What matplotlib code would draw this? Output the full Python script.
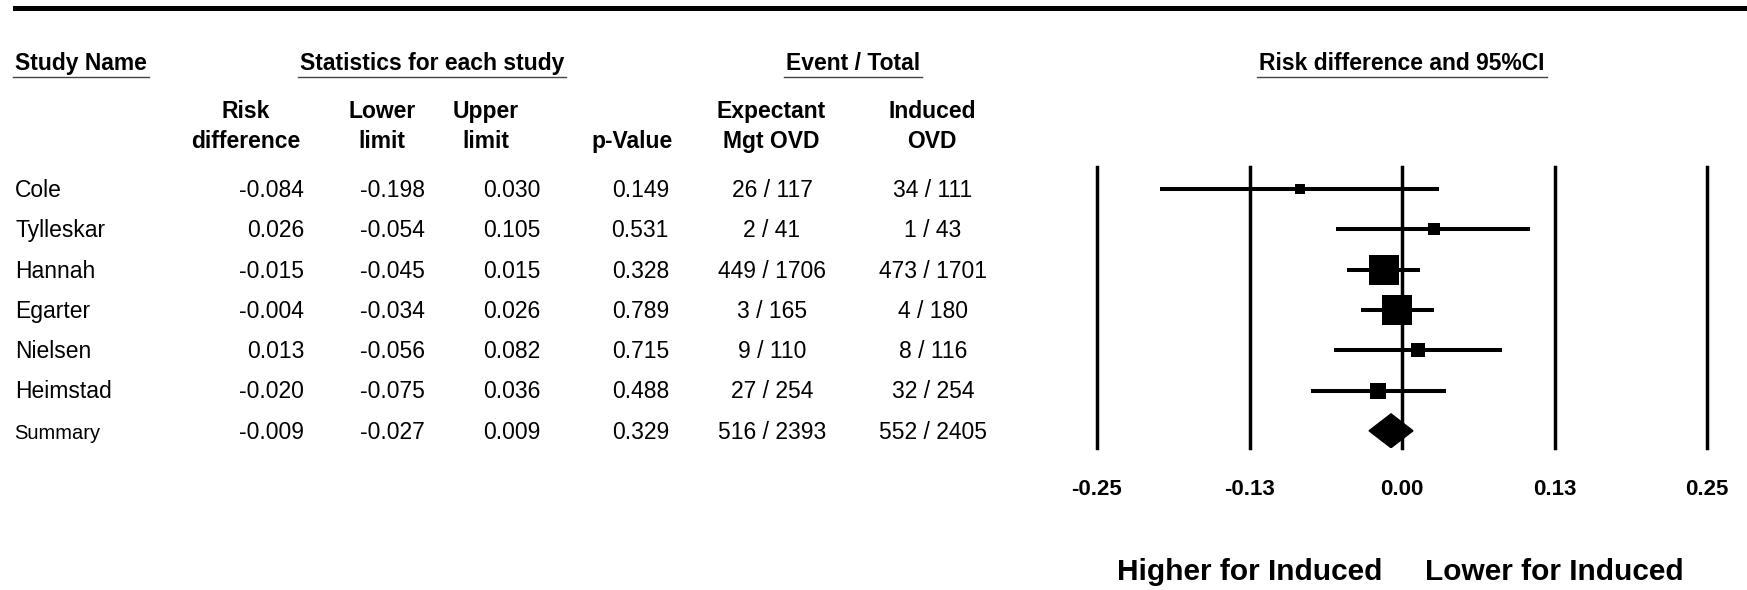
import numpy as np
import matplotlib
matplotlib.use("Agg")
import matplotlib.pyplot as plt
from matplotlib.lines import Line2D
from matplotlib.patches import Polygon

plt.rcParams.update({"font.family": ["Liberation Sans", "DejaVu Sans"], "font.size": 16.5})

# study-level data
studies = ["Cole", "Tylleskar", "Hannah", "Egarter", "Nielsen", "Heimstad"]
rd = [-0.084, 0.026, -0.015, -0.004, 0.013, -0.020]
lower = [-0.198, -0.054, -0.045, -0.034, -0.056, -0.075]
upper = [0.030, 0.105, 0.015, 0.026, 0.082, 0.036]
pval = [0.149, 0.531, 0.328, 0.789, 0.715, 0.488]
exp_ev = [26, 2, 449, 3, 9, 27]
exp_tot = [117, 41, 1706, 165, 110, 254]
ind_ev = [34, 1, 473, 4, 8, 32]
ind_tot = [111, 43, 1701, 180, 116, 254]

# pooled result
sum_rd, sum_lo, sum_hi, sum_p = -0.009, -0.027, 0.009, 0.329
sum_exp = (516, 2393)
sum_ind = (552, 2405)

ticks = [-0.25, -0.125, 0.0, 0.125, 0.25]
tick_labels = ["-0.25", "-0.13", "0.00", "0.13", "0.25"]

# box sizes (pt) as drawn in the original, roughly following study weight
box_pt = [7.9, 8.6, 22.3, 22.3, 9.4, 11.5]

W, H = 1747, 590
fig = plt.figure(figsize=(W / 100, H / 100), dpi=100)
def fx(x): return x / W
def fy(y): return 1 - y / H

row0, drow = 189, 40.3          # pixel centre of first row, row spacing
def base(i): return fy(row0 + drow * i + 8)

# forest panel
top, bot = 167, 448
ax = fig.add_axes([fx(1097), fy(bot), fx(1707) - fx(1097), (bot - top) / H])
ax.set_xlim(-0.25, 0.25)
ax.set_ylim((bot - row0) / drow, (top - row0) / drow)
for s in ax.spines.values():
    s.set_visible(False)
ax.set_yticks([])
ax.set_xticks(ticks)
ax.set_xticklabels(tick_labels, fontweight="bold", fontsize=16)
ax.tick_params(axis="x", length=0, pad=22)
for t in ticks:
    ax.axvline(t, color="black", lw=2.5, clip_on=False, zorder=1)
for i in range(len(studies)):
    ax.plot([lower[i], upper[i]], [i, i], color="black", lw=2.9, solid_capstyle="butt", zorder=2)
    ax.plot(rd[i], i, "s", ms=box_pt[i], color="black", mew=0, zorder=3)
k = len(studies)
h = 0.42
ax.add_patch(Polygon([(sum_lo, k), (sum_rd, k - h), (sum_hi, k), (sum_rd, k + h)],
                     closed=True, color="black", zorder=3))

# top rule
fig.add_artist(Line2D([fx(15), 1.0], [fy(7.5)] * 2, lw=3.6, color="black", transform=fig.transFigure))

# group headers, underlined
rend = fig.canvas.get_renderer()
heads = [("Study Name", 15, "left"), ("Statistics for each study", 432, "center"),
         ("Event / Total", 853, "center"), ("Risk difference and 95%CI", 1402, "center")]
for txt, x, ha in heads:
    t = fig.text(fx(x), fy(70), txt, ha=ha, va="baseline", fontweight="bold")
    bb = t.get_window_extent(renderer=rend)
    fig.add_artist(Line2D([(bb.x0 - 2) / W, (bb.x1 + 2) / W], [fy(77)] * 2, lw=1.0,
                          color="#444444", transform=fig.transFigure))

# column headers
cols = [("Risk", "difference", 246), ("Lower", "limit", 382), ("Upper", "limit", 486),
        ("", "p-Value", 632), ("Expectant", "Mgt OVD", 771), ("Induced", "OVD", 932)]
for l1, l2, x in cols:
    fig.text(fx(x), fy(118), l1, ha="center", va="baseline", fontweight="bold")
    fig.text(fx(x), fy(148), l2, ha="center", va="baseline", fontweight="bold")

# table body
for i, name in enumerate(studies):
    y = base(i)
    fig.text(fx(15), y, name, ha="left", va="baseline")
    fig.text(fx(304), y, f"{rd[i]:.3f}", ha="right", va="baseline")
    fig.text(fx(425), y, f"{lower[i]:.3f}", ha="right", va="baseline")
    fig.text(fx(540), y, f"{upper[i]:.3f}", ha="right", va="baseline")
    fig.text(fx(669), y, f"{pval[i]:.3f}", ha="right", va="baseline")
    fig.text(fx(772), y, f"{exp_ev[i]} / {exp_tot[i]}", ha="center", va="baseline")
    fig.text(fx(933), y, f"{ind_ev[i]} / {ind_tot[i]}", ha="center", va="baseline")

y = base(k)
fig.text(fx(14), y, "Summary", ha="left", va="baseline", fontsize=14.5)
fig.text(fx(304), y, f"{sum_rd:.3f}", ha="right", va="baseline")
fig.text(fx(425), y, f"{sum_lo:.3f}", ha="right", va="baseline")
fig.text(fx(540), y, f"{sum_hi:.3f}", ha="right", va="baseline")
fig.text(fx(669), y, f"{sum_p:.3f}", ha="right", va="baseline")
fig.text(fx(772), y, f"{sum_exp[0]} / {sum_exp[1]}", ha="center", va="baseline")
fig.text(fx(933), y, f"{sum_ind[0]} / {sum_ind[1]}", ha="center", va="baseline")

# direction labels
fig.text(fx(1382), fy(580), "Higher for Induced", ha="right", va="baseline", fontweight="bold", fontsize=21.5)
fig.text(fx(1425), fy(580), "Lower for Induced", ha="left", va="baseline", fontweight="bold", fontsize=21.5)

fig.savefig("out.png", dpi=100)
